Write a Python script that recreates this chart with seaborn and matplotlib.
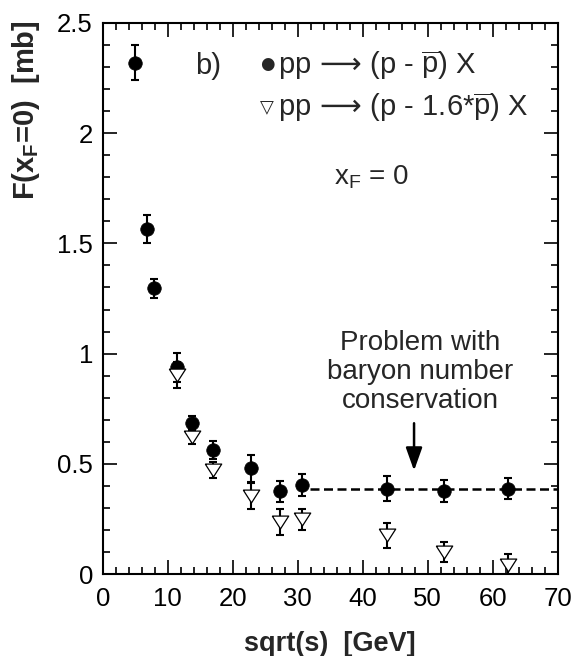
import numpy as np
import pandas as pd
import matplotlib
matplotlib.use("Agg")
import matplotlib.pyplot as plt
from matplotlib.ticker import MultipleLocator, FuncFormatter
import seaborn as sns

# ---- data ----
sqrt_s = [5.0, 6.8, 7.9, 11.4, 13.75, 17.0, 22.8, 27.2, 30.7, 43.7, 52.5, 62.4]
f_pp = [2.32, 1.567, 1.297, 0.938, 0.684, 0.563, 0.479, 0.375, 0.405, 0.387, 0.377, 0.387]
f_pp_err = [0.08, 0.063, 0.043, 0.065, 0.035, 0.041, 0.06, 0.048, 0.05, 0.058, 0.049, 0.048]

sqrt_s_16 = [11.4, 13.75, 17.0, 22.8, 27.2, 30.7, 43.7, 52.5, 62.4]
f_16 = [0.903, 0.623, 0.473, 0.355, 0.237, 0.248, 0.175, 0.098, 0.041]
f_16_err = [0.06, 0.035, 0.036, 0.058, 0.06, 0.048, 0.058, 0.045, 0.05]

plateau_level = 0.385
plateau_range = [31.9, 70.0]

x_ticks = [0, 10, 20, 30, 40, 50, 60, 70]
y_ticks = [0, 0.5, 1, 1.5, 2, 2.5]

df_pp = pd.DataFrame({"s": sqrt_s, "F": f_pp, "err": f_pp_err})
df_16 = pd.DataFrame({"s": sqrt_s_16, "F": f_16, "err": f_16_err})

sns.set_theme(style="ticks")
plt.rcParams["font.family"] = ["Liberation Sans", "DejaVu Sans"]
plt.rcParams["mathtext.fontset"] = "custom"
plt.rcParams["mathtext.rm"] = "Liberation Sans"
plt.rcParams["mathtext.it"] = "Liberation Sans:italic"
plt.rcParams["mathtext.bf"] = "Liberation Sans:bold"
plt.rcParams["mathtext.sf"] = "DejaVu Sans"

fig = plt.figure(figsize=(5.76, 6.56), dpi=100)
ax = fig.add_axes([102.7 / 576, 1 - 574 / 656, 455 / 576, 551 / 656])

# errorbars and markers
ax.errorbar(df_pp["s"], df_pp["F"], yerr=df_pp["err"], fmt="none", ecolor="black",
            elinewidth=1.5, capsize=2.6, capthick=1.5, zorder=2)
sns.scatterplot(data=df_pp, x="s", y="F", ax=ax, marker="o", s=95, color="black",
                edgecolor="black", linewidth=0.5, zorder=3, legend=False)
ax.errorbar(df_16["s"], df_16["F"], yerr=df_16["err"], fmt="none", ecolor="black",
            elinewidth=1.5, capsize=2.6, capthick=1.5, zorder=4)
tri = [(-1, 0.78), (1, 0.78), (0, -0.78), (-1, 0.78)]
sns.scatterplot(data=df_16, x="s", y="F", ax=ax, marker=tri, s=140, color="white",
                edgecolor="black", linewidth=0.9, zorder=5, legend=False)

ax.hlines(plateau_level, plateau_range[0], plateau_range[1], colors="black",
          linestyles=(0, (3.6, 1.8)), linewidth=1.8, zorder=1)

ax.set_xlim(0, 70)
ax.set_ylim(0, 2.5)
ax.set_xticks(x_ticks)
ax.set_yticks(y_ticks)
ax.xaxis.set_minor_locator(MultipleLocator(2))
ax.yaxis.set_minor_locator(MultipleLocator(0.1))
ax.yaxis.set_major_formatter(FuncFormatter(lambda v, p: f"{v:g}"))
ax.tick_params(which="both", direction="in", top=True, right=True, colors="black")
ax.tick_params(which="major", length=10, width=1.2, labelsize=18.5)
ax.tick_params(axis="x", which="major", pad=9)
ax.tick_params(axis="y", which="major", pad=7)
ax.tick_params(which="minor", length=5, width=1.2)
for sp in ax.spines.values():
    sp.set_linewidth(1.5)
    sp.set_color("black")

ax.set_xlabel("sqrt(s)  [GeV]", fontsize=19.5, fontweight="bold", labelpad=15)
ax.set_ylabel(r"F(x$_\mathdefault{F}$=0)  [mb]", fontsize=21, fontweight="bold", loc="top")
ax.yaxis.set_label_coords(-0.133, 1.005)

# annotations
ax.text(14.2, 2.27, "b)", fontsize=21, va="baseline")
ax.text(25.3, 2.314, "\u25CF", family="DejaVu Sans", fontsize=12, ha="center", va="center")
ax.text(27.0, 2.269, r"pp$\,\mathsf{\longrightarrow}\,$(p - $\overline{\mathdefault{p}}$) X",
        fontsize=21, va="baseline")
ax.text(25.3, 2.12, "\u25BD", family="DejaVu Sans", fontsize=13, ha="center", va="center")
ax.text(27.0, 2.078, r"pp$\,\mathsf{\longrightarrow}\,$(p - 1.6*$\overline{\mathdefault{p}}$) X",
        fontsize=21, va="baseline")
ax.text(41.4, 1.765, r"x$_\mathdefault{F}$ = 0", fontsize=20, ha="center", va="baseline")

ax.text(48.8, 0.917, "Problem with\nbaryon number\nconservation", fontsize=20,
        ha="center", va="center", linespacing=1.15)
ax.annotate("", xy=(47.9, 0.469), xytext=(47.9, 0.684),
            arrowprops=dict(arrowstyle="-|>,head_length=0.7,head_width=0.25",
                            lw=1.8, color="black", shrinkA=0, shrinkB=0,
                            mutation_scale=20))

fig.savefig("out.png", dpi=100)
